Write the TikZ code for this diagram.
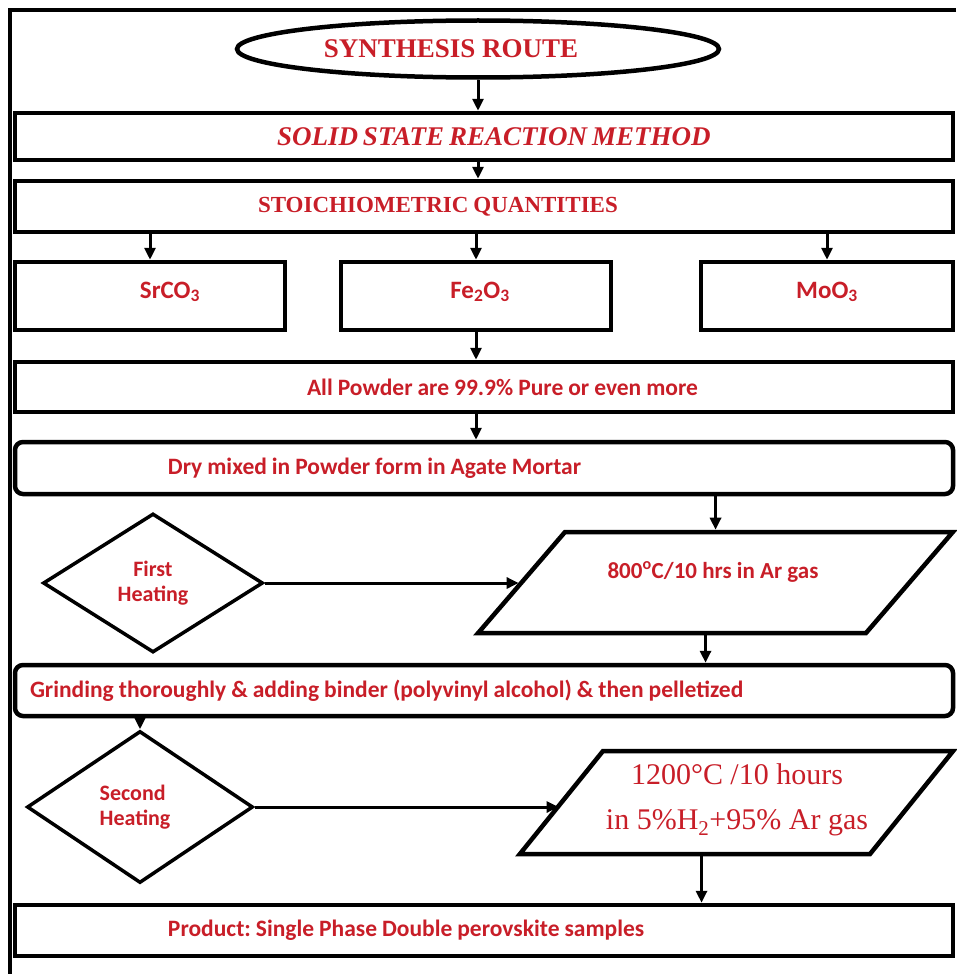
\documentclass[tikz,border=0pt]{standalone}
\usepackage{fontspec}
\setmainfont{Liberation Serif}
\newfontfamily\calfont{Carlito}
\usetikzlibrary{shapes.geometric,arrows.meta}
\definecolor{txtred}{RGB}{200,30,40}
\frenchspacing
\newcommand{\calbold}[1]{\calfont\bfseries\fontsize{#1}{25}\selectfont}

\tikzset{
  every node/.style={text=txtred},
  box/.style={draw=black, line width=4.5pt, inner sep=0pt, minimum height=50pt, font=\calbold{23.5},
    execute at begin node={\spaceskip=5pt plus 1pt}},
  widebox/.style={box, text width=938pt, align=left},
  smallbox/.style={box, minimum height=68pt, font=\calbold{25}},
  para/.style={box, trapezium, inner sep=0pt},
  decision/.style={box, diamond, line width=3.5pt, font=\calbold{22}},
  arr/.style={line width=3pt, -{Triangle[length=12pt,width=11pt]}},
}

\begin{document}
\begin{tikzpicture}[x=1pt,y=-1pt]
\useasboundingbox (0,0) rectangle (956,974);
\draw [line width=4pt] (956,10) -- (10,10) -- (10,974);

\node[ellipse, draw=black, line width=4.5pt, minimum width=482pt, minimum height=57pt] (route) at (478,49) {};
\node[font=\bfseries\fontsize{27}{30}\selectfont] (routetxt) at (451,49) {SYNTHESIS ROUTE};
\node[widebox, minimum height=47pt, font=\bfseries\itshape\fontsize{27}{30}\selectfont] (method) at (484,136.5) {\hspace*{262pt}SOLID STATE REACTION METHOD};
\node[widebox, minimum height=51pt, font=\bfseries\fontsize{23}{26}\selectfont] (quant) at (484,206.5) {\hspace*{243pt}STOICHIOMETRIC QUANTITIES};

\node[smallbox, minimum width=270pt] (srco) at (150,296) {\raisebox{12pt}{\hspace*{40pt}SrCO\textsubscript{3}}};
\node[smallbox, minimum width=270pt] (feo) at (476,296) {\raisebox{12pt}{\hspace*{8pt}Fe\textsubscript{2}O\textsubscript{3}}};
\node[smallbox, minimum width=252pt] (moo) at (827,296) {\raisebox{12pt}{MoO\textsubscript{3}}};

\node[widebox, minimum height=50pt] (powder) at (484,387) {\hspace*{292pt}All Powder are 99.9\% Pure or even more};
\node[widebox, rounded corners=8pt, minimum height=52pt] (dry) at (484,468) {\hspace*{153pt}Dry mixed in Powder form in Agate Mortar};

\node[decision, minimum width=220pt, minimum height=139pt, align=center] (first) at (153,583) {First\\Heating};
\node[para, trapezium left angle=49.3, trapezium right angle=130.7, text width=301pt, text height=50.5pt, text depth=50.5pt] (heat1) at (715.5,582.5) {};
\node[font=\calbold{23}] (heat1txt) at (713,572) {800\textsuperscript{o}C/10 hrs in Ar gas};

\node[widebox, rounded corners=8pt, minimum height=51pt] (grind) at (484,690.5) {\hspace*{15pt}Grinding thoroughly \& adding binder (polyvinyl alcohol) \& then pelletized};

\node[decision, minimum width=226pt, minimum height=152pt, align=left] (second) at (140,807) {\hspace*{-10pt}Second\\\hspace*{-10pt}Heating};
\node[para, trapezium left angle=51.1, trapezium right angle=128.9, text width=267pt, text height=51.5pt, text depth=51.5pt] (heat2) at (736.5,802.5) {};
\node[align=center, font=\fontsize{30}{45}\selectfont] (heat2txt) at (737,800) {1200°C /10 hours\\in 5\%H\textsubscript{2}+95\% Ar gas};

\node[widebox, minimum height=51pt] (product) at (484,930.5) {\hspace*{153pt}Product: Single Phase Double perovskite samples};

\draw[arr] (route.south) -- (route.south |- method.north);
\draw[arr] (route.south |- method.south) -- (route.south |- quant.north);
\foreach \n in {srco,feo,moo}
  \draw[arr] (\n.north |- quant.south) -- (\n.north);
\draw[arr] (feo.south) -- (feo.south |- powder.north);
\draw[arr] (feo.south |- powder.south) -- (feo.south |- dry.north);
\draw[arr] (heat1.north |- dry.south) -- (heat1.north);
\draw[arr] (first.east) -- (first.east -| heat1.west);
\draw[arr] ([xshift=-10pt]heat1.south) -- ([xshift=-10pt]heat1.south |- grind.north);
\draw[arr] (second.north |- grind.south) -- (second.north);
\draw[arr] (second.east) -- (second.east -| heat2.west);
\draw[arr] ([xshift=-35pt]heat2.south) -- ([xshift=-35pt]heat2.south |- product.north);
\end{tikzpicture}
\end{document}
